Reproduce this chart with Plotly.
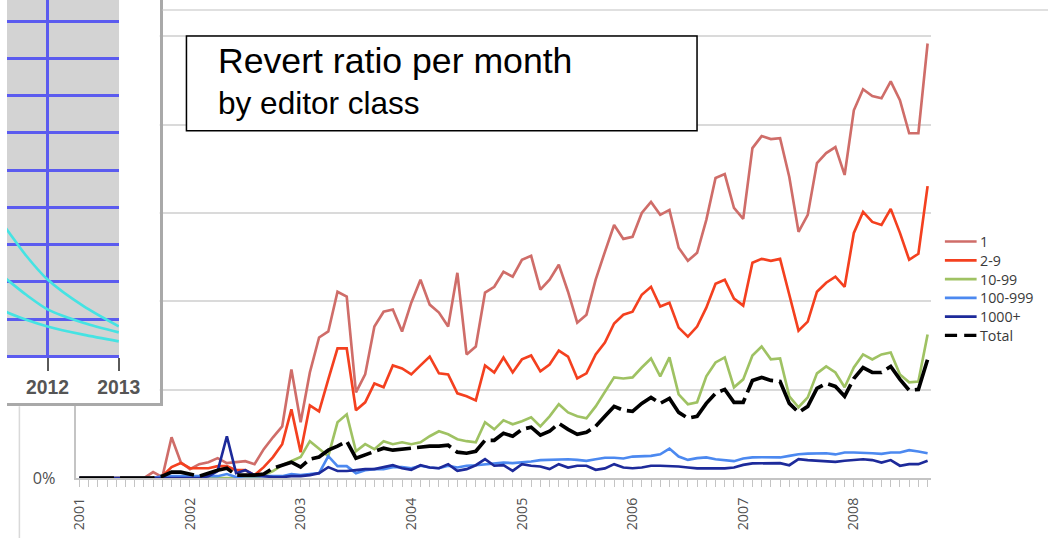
import plotly.graph_objects as go

# design grid is 1050 x 539; the page is drawn slightly larger because the
# screenshot maps ~1.018 CSS px onto one image pixel
W, H = 1050, 539
S = 1.018
FW, FH = round(W * S), round(H * S)

# ---------------- data ----------------
months = [f"{2001 + k // 12}-{k % 12 + 1:02d}" for k in range(93)]
year_labels = ["2001", "2002", "2003", "2004", "2005", "2006", "2007", "2008"]
y_tick_values = [0, 5, 10, 15, 20, 25]
# only "0%" is visible; the other labels are hidden behind the inset screenshot
y_tick_labels = ["0%", "", "", "", "", ""]

s_1 = [0, 0, 0, 0, 0, 0, 0, 0, 0.34, 0.06, 2.31, 0.90, 0.51, 0.79, 0.90, 1.13, 0.85, 0.90, 0.96, 0.79,
       1.64, 2.31, 2.93, 6.15, 3.16, 5.98, 7.96, 8.30, 10.55, 10.27, 4.85, 5.87, 8.58, 9.42, 9.54, 8.30,
       9.93, 11.23, 9.82, 9.37, 8.58, 11.62, 7.00, 7.45, 10.50, 10.83, 11.68, 11.40, 12.36, 12.58, 10.67,
       11.23, 12.08, 10.55, 8.80, 9.25, 11.23, 12.81, 14.33, 13.54, 13.66, 15.01, 15.63, 14.90, 15.18,
       13.04, 12.30, 12.75, 14.62, 16.99, 17.21, 15.29, 14.67, 18.68, 19.36, 19.19, 19.24, 17.04, 13.94,
       14.90, 17.83, 18.40, 18.74, 17.16, 20.82, 22.01, 21.62, 21.50, 22.46, 21.39, 19.52, 19.52, 24.60]
s_2_9 = [0, 0, 0, 0, 0, 0, 0, 0, 0, 0.11, 0.62, 0.85, 0.56, 0.56, 0.56, 0.68, 0.68, 0.45, 0.45, 0.17,
         0.62, 1.19, 1.92, 3.89, 1.47, 4.12, 3.78, 5.59, 7.34, 7.34, 3.84, 4.29, 5.36, 5.14, 6.38, 6.21,
         5.87, 6.38, 6.88, 5.93, 5.87, 4.80, 4.63, 4.40, 6.38, 5.98, 6.83, 5.98, 6.72, 6.94, 6.04, 6.43,
         7.22, 6.88, 5.64, 5.93, 7.00, 7.67, 8.75, 9.25, 9.42, 10.38, 10.83, 9.71, 9.93, 8.52, 8.01, 8.58,
         9.65, 11.00, 11.23, 10.16, 9.76, 12.19, 12.41, 12.30, 12.41, 10.38, 8.35, 8.86, 10.55, 11.06,
         11.40, 10.83, 13.88, 15.07, 14.50, 14.33, 15.24, 13.88, 12.36, 12.70, 16.53]
s_10_99 = [0, 0, 0, 0, 0, 0, 0, 0, 0, 0, 0, 0, 0, 0, 0, 0, 0, 0, 0, 0,
           0.17, 0.40, 0.73, 0.96, 1.19, 2.09, 1.64, 1.24, 3.16, 3.61, 1.52, 1.92, 1.64, 2.09, 1.92, 2.03,
           1.92, 2.03, 2.37, 2.65, 2.48, 2.20, 2.09, 2.03, 3.16, 2.76, 3.27, 3.05, 3.22, 3.44, 2.93, 3.50,
           4.18, 3.72, 3.50, 3.39, 4.06, 4.85, 5.70, 5.64, 5.70, 6.26, 6.77, 5.76, 6.83, 4.74, 4.18, 4.29,
           5.76, 6.55, 6.83, 5.14, 5.59, 6.94, 7.45, 6.72, 6.77, 4.63, 4.01, 4.57, 5.93, 6.32, 5.98, 5.14,
           6.26, 7.00, 6.72, 7.00, 7.11, 5.87, 5.42, 5.47, 8.13]
s_100_999 = [0, 0, 0, 0, 0, 0, 0, 0, 0, 0.11, 0.11, 0.11, 0.11, 0.11, 0.11, 0.11, 0.23, 0.06, 0.11, 0.11,
             0.11, 0.11, 0.11, 0.23, 0.17, 0.23, 0.28, 1.24, 0.68, 0.68, 0.28, 0.45, 0.51, 0.51, 0.62, 0.62,
             0.55, 0.70, 0.60, 0.56, 0.70, 0.60, 0.70, 0.73, 0.79, 0.85, 0.88, 0.85, 0.88, 0.94, 1.02, 1.03,
             1.05, 1.07, 1.03, 0.98, 1.07, 1.15, 1.15, 1.11, 1.22, 1.26, 1.26, 1.35, 1.67, 1.22, 1.03, 1.13,
             1.17, 1.07, 1.02, 0.96, 1.11, 1.17, 1.18, 1.17, 1.17, 1.26, 1.35, 1.39, 1.41, 1.41, 1.34, 1.45,
             1.45, 1.45, 1.41, 1.37, 1.45, 1.45, 1.58, 1.51, 1.41]
s_1000 = [0, 0, 0, 0, 0, 0, 0, 0, 0, 0, 0, 0, 0, 0, 0.11, 0.40, 2.37, 0.28, 0.45, 0.17,
          0.11, 0.06, 0.06, 0.11, 0.11, 0.17, 0.28, 0.62, 0.40, 0.40, 0.45, 0.51, 0.51, 0.62, 0.73, 0.56,
          0.47, 0.73, 0.60, 0.56, 0.79, 0.41, 0.51, 0.73, 1.07, 0.70, 0.73, 0.41, 0.79, 0.70, 0.66, 0.51,
          0.79, 0.60, 0.70, 0.70, 0.47, 0.55, 0.79, 0.60, 0.56, 0.60, 0.70, 0.70, 0.70, 0.66, 0.60, 0.55,
          0.55, 0.55, 0.55, 0.60, 0.75, 0.83, 0.83, 0.83, 0.85, 0.73, 1.07, 1.02, 0.98, 0.92, 0.92, 0.98,
          1.03, 1.07, 1.02, 0.88, 1.02, 0.70, 0.79, 0.79, 0.98]
s_total = [0, 0, 0, 0, 0, 0, 0, 0, 0, 0.11, 0.34, 0.34, 0.23, 0.11, 0.28, 0.45, 0.56, 0.17, 0.17, 0.17,
           0.23, 0.56, 0.73, 0.90, 0.62, 1.07, 1.19, 1.58, 1.81, 2.09, 1.13, 1.30, 1.52, 1.69, 1.58, 1.64,
           1.69, 1.75, 1.81, 1.81, 1.86, 1.47, 1.41, 1.52, 2.14, 2.14, 2.54, 2.37, 2.76, 2.88, 2.43, 2.65,
           3.10, 2.76, 2.48, 2.60, 2.93, 3.50, 4.06, 3.84, 3.78, 4.23, 4.57, 4.23, 4.51, 3.72, 3.39, 3.50,
           4.23, 4.80, 5.02, 4.29, 4.29, 5.53, 5.70, 5.53, 5.47, 4.23, 3.72, 4.06, 5.08, 5.36, 5.19, 4.63,
           5.64, 6.26, 5.98, 5.98, 6.32, 5.59, 4.97, 5.02, 6.72]

series_names = ["1", "2-9", "10-99", "100-999", "1000+", "Total"]
series_values = [s_1, s_2_9, s_10_99, s_100_999, s_1000, s_total]

# inset (screenshot of another chart)
inset_x = [2011.2, 2011.43, 2011.7, 2012.0, 2012.5, 2013.0]
inset_a = [4.0, 3.4, 2.7, 2.06, 1.35, 0.80]
inset_b = [2.4, 2.06, 1.65, 1.26, 0.90, 0.64]
inset_c = [1.4, 1.18, 0.98, 0.80, 0.58, 0.40]
inset_ticks = [2012, 2013]

# ---------------- styles ----------------
colors = ["#cf6d69", "#f4401f", "#9fc263", "#4c89f0", "#1d2a9a", "#000000"]
widths = [2.6, 2.6, 2.6, 2.6, 2.6, 3.6]


def k(v):
    return v * S


dashes = ["solid"] * 5 + [f"{k(34):.1f}px,{k(6):.1f}px"]


def px(x):
    return x / W


def py(y):
    return 1 - y / H


fig = go.Figure()
xpos = list(range(len(months)))
for name, vals, c, w, d in zip(series_names, series_values, colors, widths, dashes):
    fig.add_trace(go.Scatter(x=xpos[:len(vals)], y=vals, mode="lines", name=name,
                             line=dict(color=c, width=k(w), dash=d), showlegend=False,
                             xaxis="x", yaxis="y"))
# invisible anchor so the inset frame subplot (x2/y2) exists
fig.add_trace(go.Scatter(x=[0.5], y=[0.5], mode="markers", marker=dict(opacity=0, size=1),
                         hoverinfo="skip", showlegend=False, xaxis="x2", yaxis="y2"))
for vals in (inset_a, inset_b, inset_c):
    fig.add_trace(go.Scatter(x=inset_x, y=vals, mode="lines", showlegend=False,
                             line=dict(color="#45e3e3", width=k(2.6), shape="spline", smoothing=0.8),
                             xaxis="x3", yaxis="y3"))

tickvals = xpos
ticktext = [m[:4] if m[:4] in year_labels and m.endswith("-01") else "" for m in months]

X0, X1 = 70, 932
Y0 = 479
YMAX = 25.1
Y1 = Y0 - (Y0 - 36.5) * YMAX / 25.0
xr0, xr1 = -0.32, 92.37

fig.update_layout(
    width=FW, height=FH, margin=dict(l=0, r=0, t=0, b=0), autosize=False,
    paper_bgcolor="white", plot_bgcolor="white",
    xaxis=dict(domain=[px(X0), px(X1)], range=[xr0, xr1], tickmode="array",
               tickvals=tickvals, ticktext=ticktext, tickangle=-90,
               ticks="outside", ticklen=k(7), tickwidth=k(1.3), tickcolor="#c4c4c4",
               ticklabelstandoff=int(round(k(5))),
               showline=True, linecolor="#c4c4c4", linewidth=k(1.5), showgrid=False, zeroline=False,
               tickfont=dict(family="Open Sans", size=k(14), color="#505050"), anchor="y"),
    yaxis=dict(domain=[py(Y0), py(Y1)], range=[0, YMAX], tickmode="array",
               tickvals=y_tick_values, ticktext=y_tick_labels,
               showgrid=True, gridcolor="#dadada", gridwidth=k(1.5),
               showline=True, linecolor="#c4c4c4", linewidth=k(1.5), zeroline=False, ticks="",
               ticklabelstandoff=int(round(k(16))),
               tickfont=dict(family="Open Sans", size=k(16), color="#505050"), anchor="x"),
    # frame of the inset screenshot
    xaxis2=dict(domain=[0, px(154)], range=[0, 1], showgrid=False, zeroline=False,
                showticklabels=False, ticks="", showline=True, linecolor="#a9a9a9", linewidth=k(3),
                anchor="y2", fixedrange=True),
    yaxis2=dict(domain=[py(404), 1], range=[0, 1], showgrid=False, zeroline=False,
                showticklabels=False, ticks="", showline=True, linecolor="#a9a9a9", linewidth=k(3),
                side="right", anchor="x2", fixedrange=True),
    # inset plot
    xaxis3=dict(domain=[0, px(113)], range=[2011.43, 2013.004], tickvals=inset_ticks,
                showgrid=True, gridcolor="#5b5bef", gridwidth=k(2.5), zeroline=False,
                ticks="outside", ticklen=k(12), tickwidth=k(2), tickcolor="#5a5a5a",
                tickfont=dict(family="Liberation Sans", size=k(19), color="#555555", weight="bold"),
                showline=False, anchor="y3"),
    yaxis3=dict(domain=[py(358), 1], range=[-0.03, 9.57], dtick=1, tick0=0,
                showgrid=True, gridcolor="#5b5bef", gridwidth=k(2.5),
                zeroline=True, zerolinecolor="#5b5bef", zerolinewidth=k(2.5),
                showticklabels=False, ticks="", showline=False, anchor="x3"),
    showlegend=False,
)

shapes = []
# gray plotting area of the inset
shapes.append(dict(type="rect", xref="x3", yref="y3", x0=2011.0, x1=2013.2, y0=-1, y1=12,
                   fillcolor="#d3d3d3", line=dict(width=0), layer="below"))
# pieces of the outer chart frame
shapes.append(dict(type="line", xref="paper", yref="paper", x0=px(157), x1=1, y0=py(10), y1=py(10),
                   line=dict(color="#d6d6d6", width=k(1.5)), layer="above"))
shapes.append(dict(type="line", xref="paper", yref="paper", x0=px(12.5), x1=px(12.5), y0=py(407), y1=0,
                   line=dict(color="#d9d9d9", width=k(1.5)), layer="above"))
# title box
shapes.append(dict(type="rect", xref="paper", yref="paper", x0=px(181), x1=px(696), y0=py(131), y1=py(36),
                   fillcolor="white", line=dict(color="black", width=k(1.5)), layer="above"))

annotations = [
    dict(text="Revert ratio per month", xref="paper", yref="paper", x=px(211), y=py(61),
         xanchor="left", yanchor="middle", showarrow=False,
         font=dict(family="Liberation Sans", size=k(35), color="black")),
    dict(text="by editor class", xref="paper", yref="paper", x=px(211), y=py(103),
         xanchor="left", yanchor="middle", showarrow=False,
         font=dict(family="Liberation Sans", size=k(31), color="black")),
]

# legend
leg_y0, leg_dy = 242, 18.8
for i, (name, c) in enumerate(zip(series_names, colors)):
    yy = leg_y0 + i * leg_dy
    is_total = name == "Total"
    shapes.append(dict(type="line", xref="paper", yref="paper", x0=px(946), x1=px(978), y0=py(yy), y1=py(yy),
                       line=dict(color=c, width=k(3 if is_total else 2.6),
                                 dash=f"{k(12):.1f}px,{k(7):.1f}px" if is_total else "solid"),
                       layer="above"))
    annotations.append(dict(text=name, xref="paper", yref="paper", x=px(979), y=py(yy),
                            xanchor="left", yanchor="middle", showarrow=False,
                            font=dict(family="Open Sans", size=k(14), color="#3a3a3a")))

fig.update_layout(shapes=shapes, annotations=annotations)
fig.write_html("out.html", config={"displayModeBar": False},
               post_script="document.body.style.margin='0';document.body.style.padding='0';"
                           "document.body.style.overflow='hidden';"
                           "document.documentElement.style.overflow='hidden';")
